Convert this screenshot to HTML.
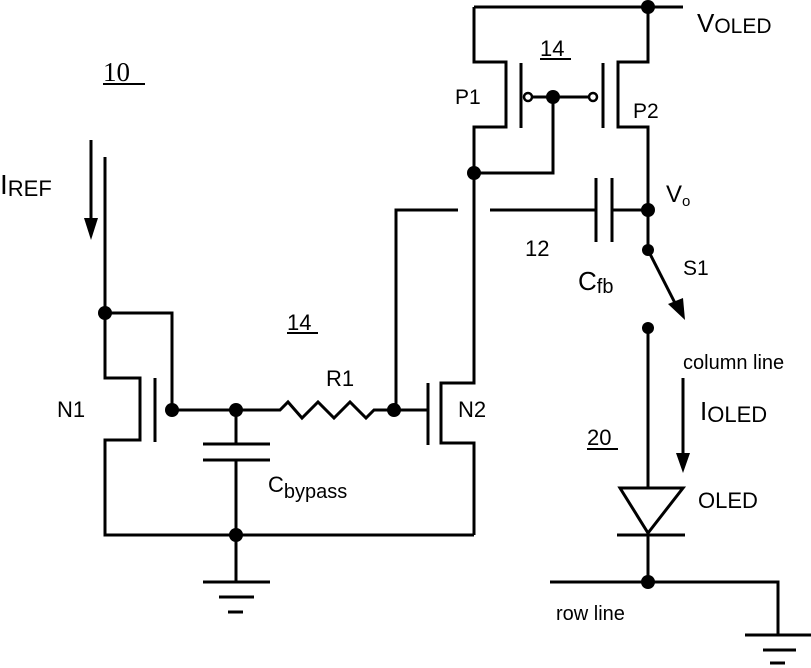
<!DOCTYPE html>
<html><head><meta charset="utf-8"><style>
html,body{margin:0;padding:0;background:#fff;}
svg{display:block;}
text{font-family:"Liberation Sans",Arial,sans-serif;fill:#000;}
</style></head><body>
<svg width="811" height="668" viewBox="0 0 811 668" xmlns="http://www.w3.org/2000/svg">
<g stroke="#000" stroke-width="3" fill="none" stroke-linejoin="miter">
<line x1="474" y1="7" x2="683" y2="7"/>
<polyline points="474,7 474,62 506,62 506,127 474,127 474,383 441,383 441,443 474,443 474,535"/>
<line x1="521" y1="63" x2="521" y2="128"/>
<polyline points="648,7 648,62 618,62 618,127 648,127 648,250"/>
<line x1="603" y1="63" x2="603" y2="128"/>
<line x1="532" y1="97" x2="589" y2="97"/>
<polyline points="553,97 553,173 474,173"/>
<circle cx="528" cy="97" r="4" stroke-width="2.5" fill="#fff"/>
<circle cx="593" cy="97" r="4" stroke-width="2.5" fill="#fff"/>
<line x1="490" y1="210" x2="596" y2="210"/>
<line x1="596" y1="178" x2="596" y2="242"/>
<line x1="612" y1="178" x2="612" y2="242"/>
<line x1="612" y1="210" x2="648" y2="210"/>
<polyline points="458,210 396,210 396,410"/>
<line x1="428" y1="383" x2="428" y2="445"/>
<line x1="394" y1="410" x2="428" y2="410"/>
<polyline points="236,410 280,410 288,402 302,418 318,402 334,418 350,402 366,418 374,410 394,410"/>
<polyline points="105,157 105,378 140,378 140,440 105,440 105,535 474,535"/>
<line x1="155" y1="378" x2="155" y2="442"/>
<polyline points="105,313 172,313 172,410 236,410"/>
<line x1="236" y1="410" x2="236" y2="444"/>
<line x1="203" y1="444" x2="270" y2="444"/>
<line x1="203" y1="460" x2="270" y2="460"/>
<line x1="236" y1="460" x2="236" y2="582"/>
<line x1="203" y1="582" x2="270" y2="582"/>
<line x1="219" y1="597" x2="254" y2="597"/>
<line x1="228" y1="612" x2="243" y2="612"/>
<line x1="91" y1="140" x2="91" y2="222"/>
<line x1="648" y1="250" x2="676" y2="305"/>
<line x1="648" y1="328" x2="648" y2="488"/>
<polygon points="620,488 683,488 648,533"/>
<line x1="617" y1="535" x2="685" y2="535"/>
<line x1="648" y1="535" x2="648" y2="582"/>
<polyline points="550,582 778,582 778,635"/>
<line x1="745" y1="635" x2="811" y2="635"/>
<line x1="763" y1="650" x2="796" y2="650"/>
<line x1="770" y1="663" x2="785" y2="663"/>
<line x1="683" y1="378" x2="683" y2="455"/>
</g>
<g fill="#000">
<polygon points="84,218 98,218 91,240"/>
<polygon points="676,453 690,453 683,473"/>
<polygon points="668,304 683,298 685,320"/>
<circle cx="648" cy="7" r="7"/>
<circle cx="553" cy="97" r="7"/>
<circle cx="474" cy="173" r="7"/>
<circle cx="648" cy="210" r="7"/>
<circle cx="648" cy="250" r="6"/>
<circle cx="648" cy="328" r="6"/>
<circle cx="105" cy="313" r="7"/>
<circle cx="172" cy="410" r="7"/>
<circle cx="236" cy="410" r="7"/>
<circle cx="394" cy="410" r="7"/>
<circle cx="236" cy="535" r="7"/>
<circle cx="648" cy="582" r="7"/>
</g>
<g font-size="21">
<text x="103" y="81" style="font-family:'Liberation Serif',serif" font-size="27">10</text>
<line x1="103" y1="84" x2="145" y2="84" stroke="#000" stroke-width="2"/>
<text x="540" y="56" font-size="22">14</text><line x1="540" y1="59" x2="571" y2="59" stroke="#000" stroke-width="2"/>
<text x="287" y="330" font-size="22">14</text><line x1="287" y1="333" x2="318" y2="333" stroke="#000" stroke-width="2"/>
<text x="587" y="445" font-size="22">20</text><line x1="587" y1="449" x2="618" y2="449" stroke="#000" stroke-width="2"/>
<text x="0" y="194" font-size="28">I<tspan font-size="22" dy="2">REF</tspan></text>
<text x="697" y="32" font-size="26">V<tspan font-size="21" dy="1">OLED</tspan></text>
<text x="455" y="104">P1</text>
<text x="633" y="118">P2</text>
<text x="666" y="202" font-size="24">V<tspan font-size="15" dy="4">o</tspan></text>
<text x="525" y="256" font-size="22">12</text>
<text x="578" y="290" font-size="26">C<tspan font-size="20" dy="3">fb</tspan></text>
<text x="683" y="275">S1</text>
<text x="683" y="369" font-size="20">column line</text>
<text x="700" y="420" font-size="26">I<tspan font-size="22" dy="2">OLED</tspan></text>
<text x="698" y="508" font-size="22">OLED</text>
<text x="556" y="620" font-size="20">row  line</text>
<text x="268" y="492" font-size="22">C<tspan dy="6" font-size="20">bypass</tspan></text>
<text x="326" y="386" font-size="22">R1</text>
<text x="57" y="417" font-size="22">N1</text>
<text x="458" y="417" font-size="22">N2</text>
</g>
</svg>
</body></html>
